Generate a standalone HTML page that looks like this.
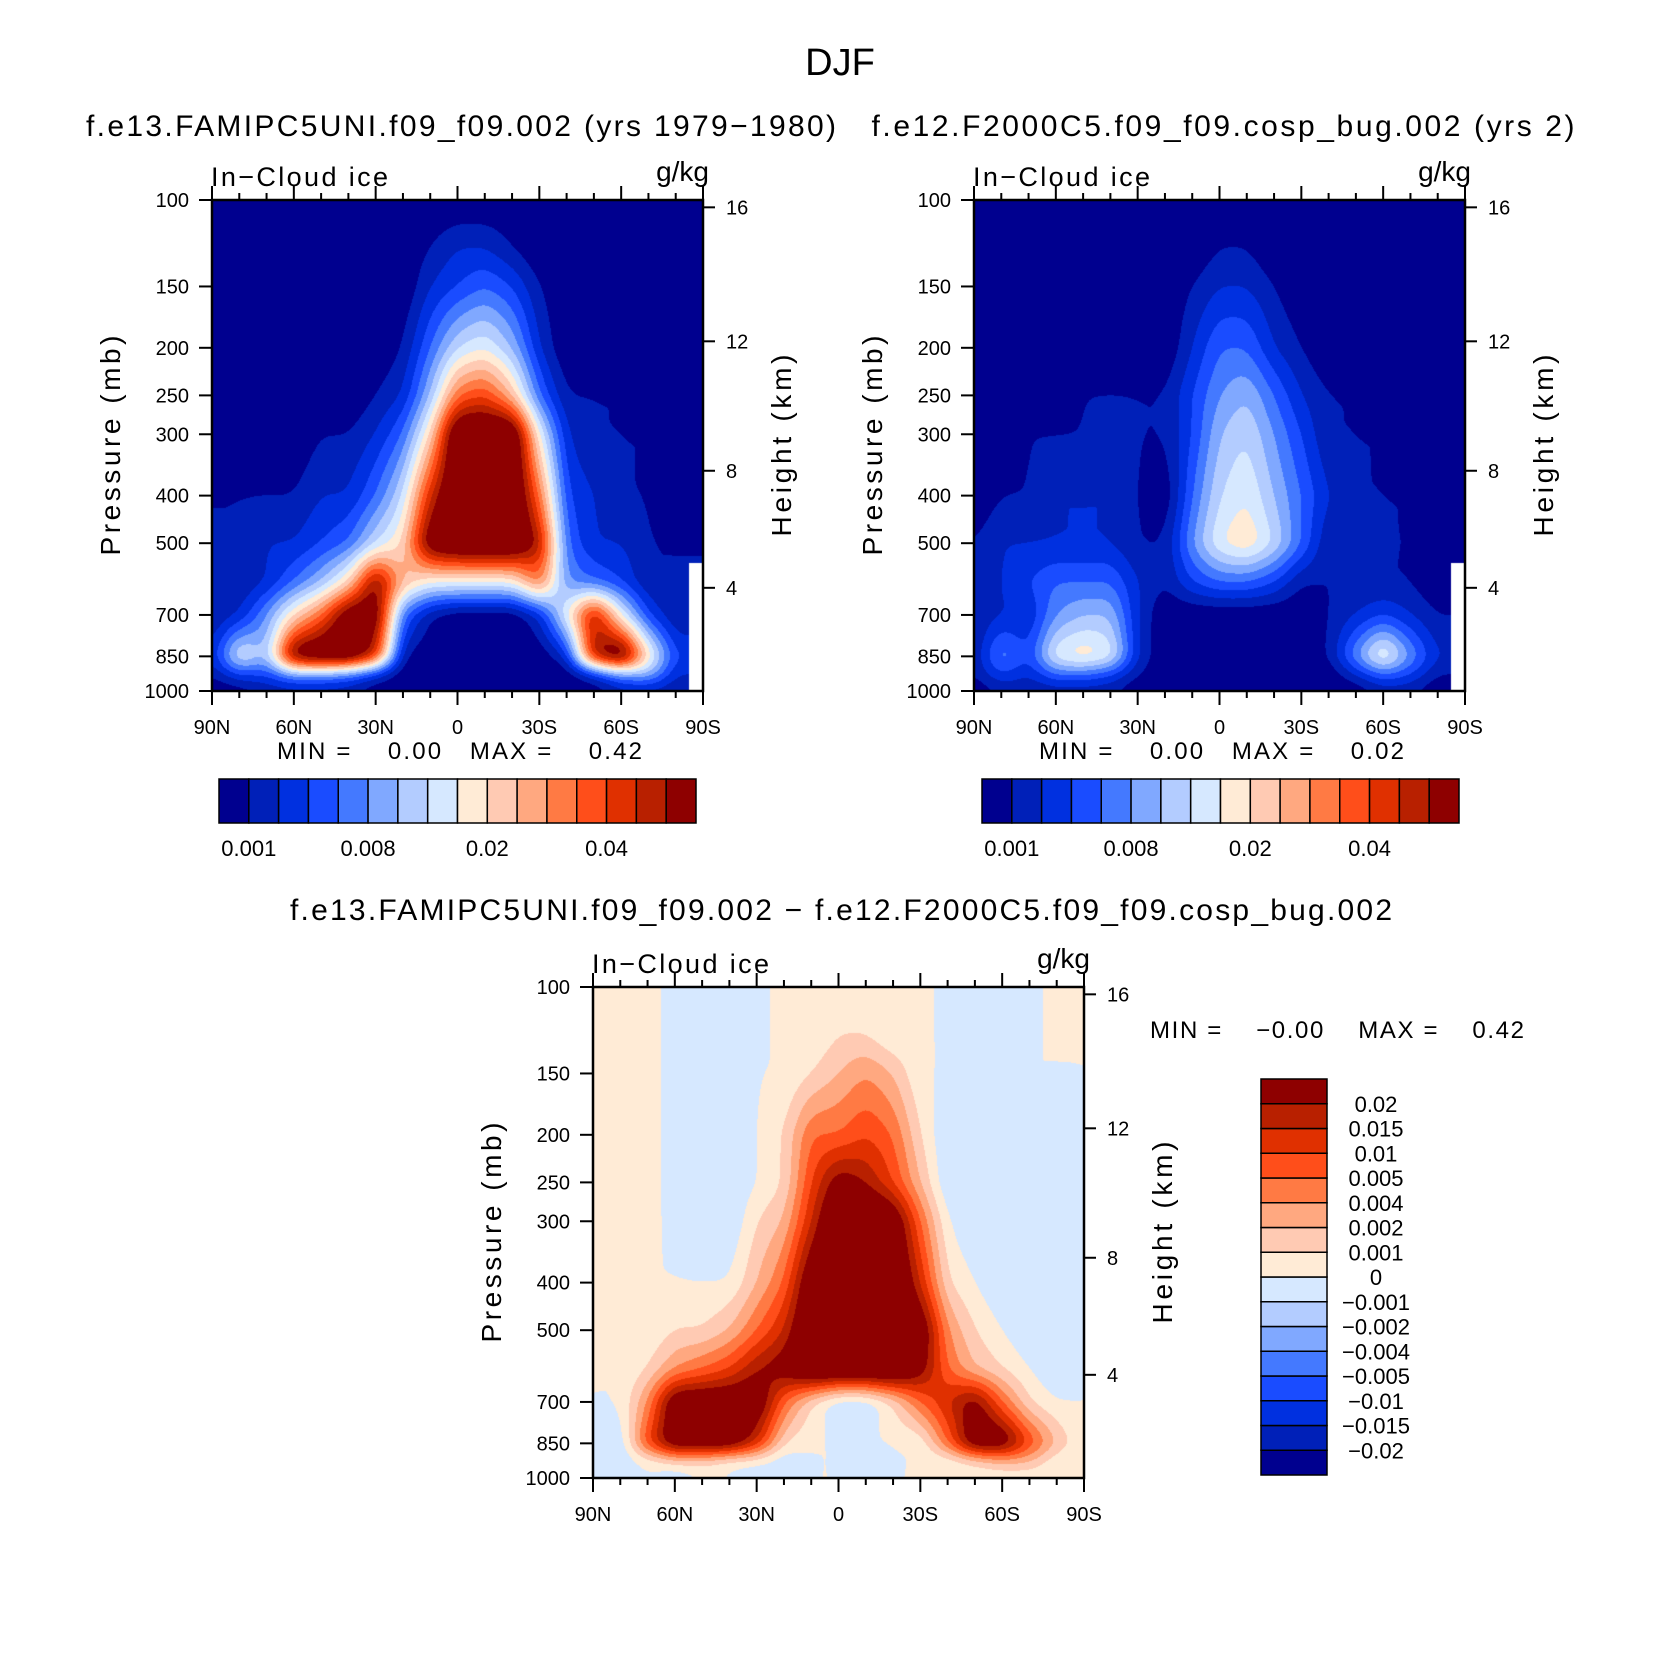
<!DOCTYPE html>
<html><head><meta charset="utf-8">
<style>
html,body{margin:0;padding:0;background:#fff;}
#wrap{position:relative;width:1674px;height:1672px;overflow:hidden;}
canvas,svg{position:absolute;left:0;top:0;}
text{font-family:"Liberation Sans",sans-serif;fill:#000;white-space:pre;}
</style></head>
<body>
<div id="wrap">
<canvas id="cv" width="1674" height="1672"></canvas>
<svg id="sv" width="1674" height="1672" xmlns="http://www.w3.org/2000/svg">
<text x="840" y="75" font-size="38" text-anchor="middle">DJF</text>
<text x="461" y="136" font-size="30" text-anchor="middle" textLength="750">f.e13.FAMIPC5UNI.f09_f09.002 (yrs 1979−1980)</text>
<text x="1223" y="136" font-size="30" text-anchor="middle" textLength="703">f.e12.F2000C5.f09_f09.cosp_bug.002 (yrs 2)</text>
<text x="841" y="920" font-size="30" text-anchor="middle" textLength="1102">f.e13.FAMIPC5UNI.f09_f09.002 − f.e12.F2000C5.f09_f09.cosp_bug.002</text>
<g id="axes"></g>
</svg>
</div>
<script>
const lats=[90,80,70,60,50,40,30,20,10,0,-10,-20,-30,-40,-50,-60,-70,-80,-90];
const plevs=[100,125,150,200,250,300,400,500,600,700,850,925,1000];
const N=null;
const field1=[
[0,0,0,0,0,0,0,0,0,0,0,0,0,0,0,0,0,0,0],
[0,0,0,0,0,0,0,0,1,2,2,1,0,0,0,0,0,0,0],
[0,0,0,0,0,0,0,0,2,3,4,3,1,0,0,0,0,0,0],
[0,0,0,0,0,0,0,1,4,7,8,6,2,0,0,0,0,0,0],
[0,0,0,0,0,0,1,2,6,12,13,10,4,1,1,1,0,0,0],
[0,0,0,0,1,1,2,4,9,18,18,18,8,2,1,1,1,0,0],
[1,1,1,1,2,2,4,7,14,18,18,18,12,3,2,1,1,0,0],
[1,1,2,2,3,4,7,9,17,18,18,18,15,4,2,2,1,1,1],
[1,1,2,4,6,9,16,10,8,8,8,8,12,5,4,3,1,1,N],
[1,2,5,9,12,17,17,4,1,0,0,0,2,8,15,8,3,1,N],
[2,8,6,17,18,18,14,1,0,0,0,0,0,2,15,18,9,3,N],
[1,3,3,5,5,4,2,0,0,0,0,0,0,0,2,5,6,2,N],
[0,0,1,1,1,1,0,0,0,0,0,0,0,0,0,1,1,1,N]];
const field2=[
[0,0,0,0,0,0,0,0,0,0,0,0,0,0,0,0,0,0,0],
[0,0,0,0,0,0,0,0,0,1,1,0,0,0,0,0,0,0,0],
[0,0,0,0,0,0,0,0,1,2,2,1,0,0,0,0,0,0,0],
[0,0,0,0,0,0,0,0,2,4,4,2,1,0,0,0,0,0,0],
[0,0,0,0,1,1,1,1,3,5,6,4,2,1,1,0,0,0,0],
[0,0,1,1,1,2,1,1,3,6,7,5,3,1,1,1,0,0,0],
[0,1,1,2,2,2,1,0,4,7,8,6,4,2,1,1,1,0,0],
[1,2,2,2,2,2,1,1,5,8,9,7,4,1,2,1,1,1,1],
[1,2,3,4,4,4,2,1,3,4,4,3,1,1,1,1,1,0,N],
[1,2,2,5,6,6,2,0,0,0,0,0,0,1,2,3,2,1,N],
[1,5,3,8,9,8,2,0,0,0,0,0,0,1,5,9,5,2,N],
[1,3,2,4,4,3,1,0,0,0,0,0,0,0,2,4,3,1,N],
[0,1,1,1,1,1,0,0,0,0,0,0,0,0,0,1,1,0,N]];
const field3=[
[8,8,8,8,7,7,8,8,8,8,8,8,8,8,7,7,8,8,8],
[8,8,8,8,7,7,8,8,8,9,9,8,8,8,7,7,8,8,8],
[8,8,8,8,7,7,8,8,9,10,11,10,8,8,7,7,8,8,8],
[8,8,8,8,7,7,8,9,12,12,13,12,9,7,7,7,7,7,8],
[8,8,8,8,7,7,8,9,13,16,15,13,10,7,7,7,7,7,8],
[8,8,8,8,7,7,9,10,14,18,18,17,12,8,7,7,7,7,8],
[8,8,8,8,8,8,10,12,17,18,18,18,14,9,8,7,7,7,8],
[8,8,8,9,9,10,12,14,18,18,18,18,17,11,9,8,7,7,8],
[8,8,9,11,12,13,15,16,18,18,18,18,16,12,10,9,8,7,8],
[8,8,11,17,17,17,17,12,9,7,7,9,12,14,16,12,9,8,8],
[8,7,13,17,17,17,14,9,8,8,8,8,8,12,17,17,13,10,8],
[8,7,8,9,9,8,8,7,8,8,7,8,8,8,9,10,10,8,8],
[8,8,8,7,8,8,7,8,8,8,8,8,8,8,8,8,8,8,8]];
const palette=["#00008f","#0020b8","#0030e0","#1a4cff","#4479ff","#80a8ff","#b3ccff","#d6e8ff","#ffebd6","#ffcab3","#ffa880","#ff7a44","#ff4e1a","#e03000","#b82000","#8e0000"];
const cbLabels=["0.001","0.008","0.02","0.04"];
const cbLabelPos=[1,5,9,13];
const cb3Labels=["0.02","0.015","0.01","0.005","0.004","0.002","0.001","0","−0.001","−0.002","−0.004","−0.005","−0.01","−0.015","−0.02"];
const pTicks=[100,150,200,250,300,400,500,700,850,1000];
const hTicks=[16,12,8,4];
const hTickP=[103.5,194.0,356.0,616.4];
const xTicks=[90,60,30,0,-30,-60,-90];
const xTickLabels=["90N","60N","30N","0","30S","60S","90S"];
const panelStats=[["0.00","0.42"],["0.00","0.02"],["−0.00","0.42"]];

const W=491;
const panels=[{x:212,y:200,f:field1,p:"panel1"},{x:974,y:200,f:field2,p:"panel2"},{x:593,y:987,f:field3,p:"panel3"}];
function xs(P,lat){return P.x+(90-lat)/180*W;}
function ys(P,p){return P.y+(Math.log10(p)-2)*W;}
function gv(f,j,i){let v=f[j][i];let k=i;while(v===null&&k>0){k--;v=f[j][k];}return v;}
function sample(f,lat,p){
  let i=Math.min(lats.length-2,Math.max(0,Math.floor((90-lat)/10)));
  let t=(lats[i]-lat)/10;
  const lp=Math.log10(p);
  let j=0;while(j<plevs.length-2&&Math.log10(plevs[j+1])<lp)j++;
  let u=(lp-Math.log10(plevs[j]))/(Math.log10(plevs[j+1])-Math.log10(plevs[j]));
  u=Math.max(0,Math.min(1,u));
  const a=gv(f,j,i),b=gv(f,j,i+1),c=gv(f,j+1,i),d=gv(f,j+1,i+1);
  const missing=f[u<0.5?j:j+1][t<0.5?i:i+1]===null;
  return [(a*(1-t)+b*t)*(1-u)+(c*(1-t)+d*t)*u,missing];
}
function blur(arr,r){
  const tmp=new Float32Array(W*W);
  for(let y=0;y<W;y++){for(let x=0;x<W;x++){let s=0;for(let k=-r;k<=r;k++){const xx=Math.min(W-1,Math.max(0,x+k));s+=arr[y*W+xx];}tmp[y*W+x]=s/(2*r+1);}}
  for(let y=0;y<W;y++){for(let x=0;x<W;x++){let s=0;for(let k=-r;k<=r;k++){const yy=Math.min(W-1,Math.max(0,y+k));s+=tmp[yy*W+x];}arr[y*W+x]=s/(2*r+1);}}
}
const cv=document.getElementById('cv');const ctx=cv.getContext('2d');
const rgb=palette.map(h=>[parseInt(h.slice(1,3),16),parseInt(h.slice(3,5),16),parseInt(h.slice(5,7),16)]);
panels.forEach(P=>{
  const vals=new Float32Array(W*W);const mask=new Uint8Array(W*W);
  for(let py=0;py<W;py++){
    const p=Math.pow(10,2+(py+0.5)/W);
    for(let px=0;px<W;px++){
      const lat=90-(px+0.5)/W*180;
      const s=sample(P.f,lat,p);
      vals[py*W+px]=s[0];mask[py*W+px]=s[1]?1:0;
    }
  }
  blur(vals,8);blur(vals,8);
  const img=ctx.createImageData(W,W);
  for(let q=0;q<W*W;q++){
    const k=q*4;let c=[255,255,255];
    if(!mask[q]){c=rgb[Math.max(0,Math.min(15,Math.floor(vals[q]+1e-3)))];}
    img.data[k]=c[0];img.data[k+1]=c[1];img.data[k+2]=c[2];img.data[k+3]=255;
  }
  ctx.putImageData(img,P.x,P.y);
});

const NS="http://www.w3.org/2000/svg";
const G=document.getElementById('axes');
function mk(tag,attrs,txt){const e=document.createElementNS(NS,tag);for(const k in attrs)e.setAttribute(k,attrs[k]);if(txt!==undefined)e.textContent=txt;G.appendChild(e);return e;}
function line(x1,y1,x2,y2,w){return mk('line',{x1:x1,y1:y1,x2:x2,y2:y2,stroke:'#000','stroke-width':w||2});}

panels.forEach((P,pi)=>{
  let e=mk('rect',{x:P.x,y:P.y,width:W,height:W,fill:'none',stroke:'#000','stroke-width':2.5});
  
  
  e=mk('text',{x:P.x-1,y:P.y-14,'font-size':27,textLength:177},'In−Cloud ice');
  
  
  e=mk('text',{x:P.x+W+6,y:P.y-19,'font-size':28,'text-anchor':'end'},'g/kg');
  
  
  for(let lat=90;lat>=-90;lat-=10){
    const x=xs(P,lat);const major=(lat%30===0);
    e=line(x,P.y,x,P.y-(major?14:7),2);
    
    
    e=line(x,P.y+W,x,P.y+W+(major?14:7),2);
    
    
  }
  xTicks.forEach((lat,k)=>{
    const t=mk('text',{x:xs(P,lat),y:P.y+W+43,'font-size':20,'text-anchor':'middle'},xTickLabels[k]);
    
    
  });
  pTicks.forEach(p=>{
    const y=ys(P,p);
    let l=line(P.x,y,P.x-13,y,2);
    
    
    const t=mk('text',{x:P.x-23,y:y+7,'font-size':20,'text-anchor':'end'},String(p));
    
    
  });
  hTicks.forEach((h,k)=>{
    const y=ys(P,hTickP[k]);
    let l=line(P.x+W,y,P.x+W+12,y,2);
    
    
    const t=mk('text',{x:P.x+W+23,y:y+7,'font-size':20},String(h));
    
    
  });
  const cy=P.y+W/2;
  let t=mk('text',{x:0,y:0,'font-size':28,'text-anchor':'middle',textLength:220,transform:'translate('+(P.x-92)+','+cy+') rotate(-90)'},'Pressure (mb)');
  
  
  t=mk('text',{x:0,y:0,'font-size':28,'text-anchor':'middle',textLength:182,transform:'translate('+(P.x+W+88)+','+cy+') rotate(-90)'},'Height (km)');
  
  
});

[[219,panels[0],0],[982,panels[1],1]].forEach(([cx,P,pi])=>{
  const bw=477/16;
  palette.forEach((c,k)=>{
    const r=mk('rect',{x:cx+k*bw,y:779,width:bw,height:44,fill:c,stroke:'#000','stroke-width':1.5});
    
    
  });
  cbLabels.forEach((s,k)=>{
    const t=mk('text',{x:cx+cbLabelPos[k]*bw,y:856,'font-size':22,'text-anchor':'middle'},s);
    
    
  });
  const st=mk('text',{x:P.x+65,y:759,'font-size':24,textLength:365},'MIN =    '+panelStats[pi][0]+'   MAX =    '+panelStats[pi][1]);
  
  
});
{
  const bh=396/16;
  palette.forEach((c,k)=>{
    const r=mk('rect',{x:1261,y:1079+(15-k)*bh,width:66,height:bh,fill:c,stroke:'#000','stroke-width':1.5});
    
    
  });
  cb3Labels.forEach((s,k)=>{
    const t=mk('text',{x:1376,y:1079+(k+1)*bh+8,'font-size':22,'text-anchor':'middle'},s);
    
    
  });
  const st=mk('text',{x:1150,y:1038,'font-size':24,textLength:374},'MIN =    '+panelStats[2][0]+'    MAX =    '+panelStats[2][1]);
  
  
}
</script>
</body></html>
